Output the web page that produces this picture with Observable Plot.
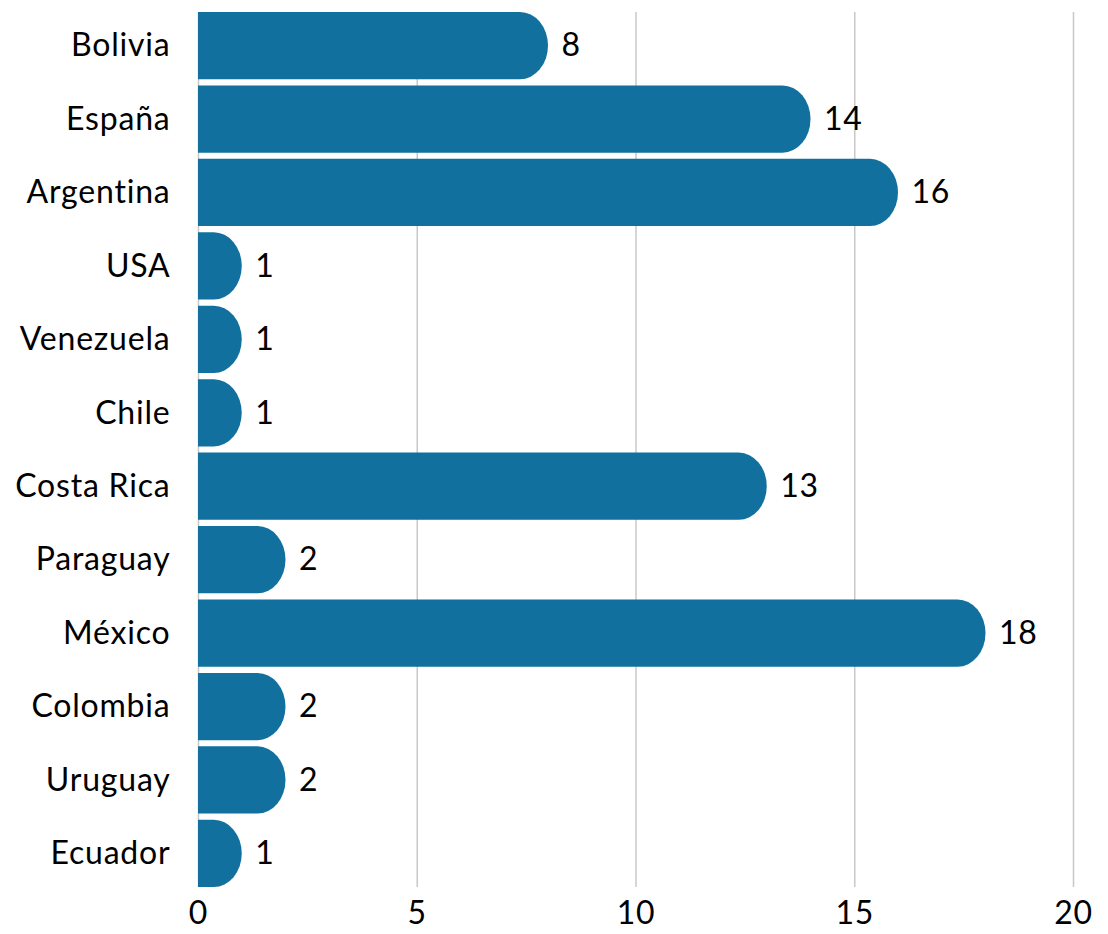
<!DOCTYPE html>
<html>
<head>
<meta charset="utf-8">
<script src="https://cdn.jsdelivr.net/npm/d3@7"></script>
<script src="https://cdn.jsdelivr.net/npm/@observablehq/plot@0.6"></script>
<style>
  body { margin: 0; background: #fff; }
  svg { font-family: Lato, "Open Sans", sans-serif; letter-spacing: 0.8px; }
</style>
</head>
<body>
<div id="chart"></div>
<script>
const countries = ["Bolivia", "España", "Argentina", "USA", "Venezuela", "Chile", "Costa Rica", "Paraguay", "México", "Colombia", "Uruguay", "Ecuador"];
const counts = [8, 14, 16, 1, 1, 1, 13, 2, 18, 2, 2, 1];
const xTicks = [0, 5, 10, 15, 20];

const data = countries.map((c, i) => ({country: c, value: counts[i]}));
const barColor = "#11709e";

const chart = Plot.plot({
  width: 1108,
  height: 934,
  marginLeft: 198,
  marginRight: 35,
  marginTop: 12,
  marginBottom: 47,
  style: {fontSize: "32px", color: "#000", background: "#fff"},
  x: {domain: [0, 20], ticks: xTicks, label: null},
  y: {domain: countries, label: null, paddingInner: 0.085, paddingOuter: 0, round: false},
  marks: [
    Plot.ruleX(xTicks, {stroke: "#c8c8c8", strokeWidth: 1.5}),
    // left end extends past the frame and is clipped, so only the right end is rounded
    Plot.barX(data, {y: "country", x1: -1, x2: "value", fill: barColor, rx: 28, ry: 34, clip: "frame"}),
    Plot.text(data, {y: "country", x: "value", text: d => String(d.value), textAnchor: "start", dx: 13, fontSize: 32, fill: "#000"}),
    Plot.axisY({tickSize: 0, tickPadding: 28, fontSize: 32, fill: "#000"}),
    Plot.axisX({ticks: xTicks, tickSize: 0, tickPadding: 14, fontSize: 32, fill: "#000"})
  ]
});
document.getElementById("chart").appendChild(chart);
</script>
</body>
</html>
